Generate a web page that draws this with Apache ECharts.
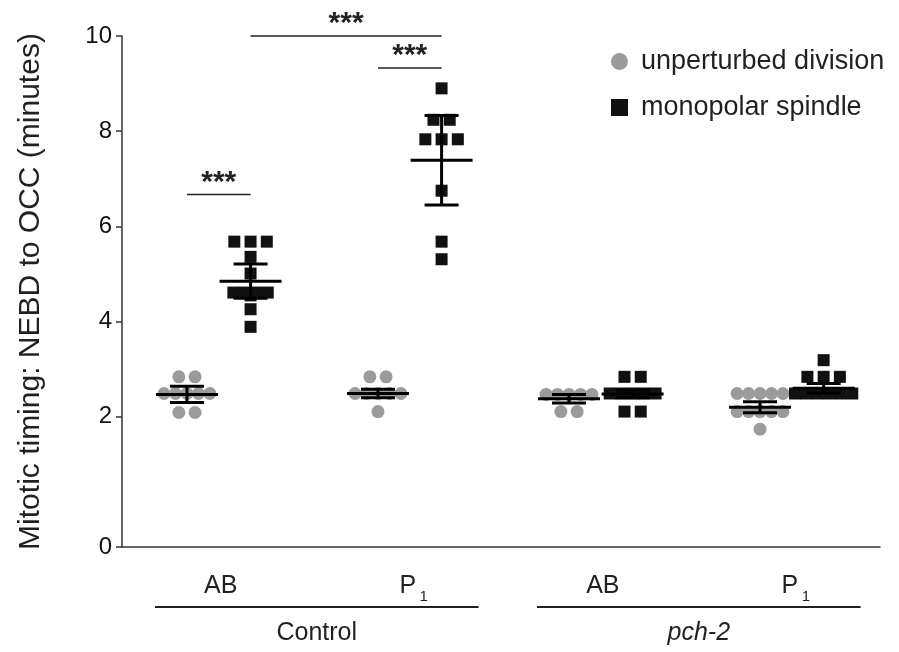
<!DOCTYPE html>
<html>
<head>
<meta charset="utf-8">
<style>
  html, body { margin: 0; padding: 0; background: #fff; }
  #chart { width: 899px; height: 652px; }
</style>
</head>
<body>
<div id="chart"></div>
<script src="https://cdn.jsdelivr.net/npm/echarts@6/dist/echarts.min.js"></script>
<script>
// cells and genotypes (two cells per genotype)
const cellNames = ['AB', 'P', 'AB', 'P']
const genotypes = ['Control', 'pch-2']
const seriesNames = ['unperturbed division', 'monopolar spindle']

// NEBD to OCC in minutes, one array per column
const ctrlABUnpert = [2.84, 2.84, 2.49, 2.49, 2.49, 2.49, 2.49, 2.09, 2.09]
const ctrlABMono = [5.68, 5.68, 5.68, 5.36, 5.01, 4.61, 4.61, 4.61, 4.61, 4.55, 4.26, 3.89]
const ctrlP1Unpert = [2.84, 2.84, 2.49, 2.49, 2.49, 2.49, 2.49, 2.11]
const ctrlP1Mono = [8.90, 8.24, 8.24, 7.83, 7.83, 7.83, 6.75, 5.68, 5.31]
const pchABUnpert = [2.47, 2.47, 2.47, 2.47, 2.47, 2.11, 2.11]
const pchABMono = [2.84, 2.84, 2.49, 2.49, 2.49, 2.49, 2.49, 2.11, 2.11]
const pchP1Unpert = [2.49, 2.49, 2.49, 2.49, 2.49, 2.11, 2.11, 2.11, 2.11, 2.11, 1.74]
const pchP1Mono = [3.19, 2.84, 2.84, 2.84, 2.49, 2.49, 2.49, 2.49, 2.49, 2.49]

// mean and error half-width per cell
const unpertMeans = [2.47, 2.49, 2.38, 2.20]
const unpertErrs = [0.17, 0.09, 0.09, 0.115]
const monoMeans = [4.85, 7.39, 2.48, 2.60]
const monoErrs = [0.36, 0.94, 0.08, 0.10]

const yTickLabels = [0, 2, 4, 6, 8, 10]

// significance brackets: column from, column to, height (columns 0..7)
const sigFrom = [0, 2, 1]
const sigTo = [1, 3, 3]
const sigHeight = [6.67, 9.33, 10.0]
const sigLabels = ['***', '***', '***']

const FONT = '"Liberation Sans", Arial, Helvetica, sans-serif'
const Y_BOTTOM = -0.735 // axis starts a bit below 0, like the original
const MONO_SHIFT = 0.333
const colX = (c) => Math.floor(c / 2) + (c % 2) * MONO_SHIFT

// put equal values side by side, centred on the column
function spreadRows(values, x0) {
  const rows = {}
  values.forEach(v => { (rows[v] = rows[v] || []).push(v) })
  const pts = []
  Object.keys(rows).forEach(k => {
    const n = rows[k].length
    const d = n <= 3 ? 0.085 : 0.06
    rows[k].forEach((v, i) => pts.push([x0 + (i - (n - 1) / 2) * d, v]))
  })
  return pts
}

const unpertCols = [ctrlABUnpert, ctrlP1Unpert, pchABUnpert, pchP1Unpert]
const monoCols = [ctrlABMono, ctrlP1Mono, pchABMono, pchP1Mono]

const unpertData = unpertCols.flatMap((vals, g) => spreadRows(vals, colX(g * 2)))
const monoData = monoCols.flatMap((vals, g) => spreadRows(vals, colX(g * 2 + 1)))

const errData = []
for (let g = 0; g < 4; g++) {
  errData.push([colX(g * 2), unpertMeans[g], unpertMeans[g] - unpertErrs[g], unpertMeans[g] + unpertErrs[g]])
  errData.push([colX(g * 2 + 1), monoMeans[g], monoMeans[g] - monoErrs[g], monoMeans[g] + monoErrs[g]])
}
const sigData = sigFrom.map((c, i) => [colX(c), colX(sigTo[i]), sigHeight[i]])

const chart = echarts.init(document.getElementById('chart'))

const option = {
  animation: false,
  backgroundColor: '#fff',
  textStyle: { fontFamily: FONT },
  grid: { left: 122, right: 19, top: 36, bottom: 105, containLabel: false, outerBoundsMode: 'none' },
  legend: {
    orient: 'vertical',
    left: 606,
    top: 43,
    itemWidth: 17,
    itemHeight: 17,
    itemGap: 19,
    textStyle: { fontSize: 27, color: '#231f20', fontFamily: FONT, padding: [0, 0, 0, 8] },
    data: [
      { name: seriesNames[0], icon: 'circle' },
      { name: seriesNames[1], icon: 'path://M0,0h10v10h-10z' }
    ]
  },
  xAxis: {
    type: 'value',
    min: -0.34,
    max: 3.628,
    axisLine: { show: true, onZero: false, lineStyle: { color: '#333', width: 1.5 } },
    axisTick: { show: false },
    axisLabel: { show: false },
    splitLine: { show: false }
  },
  yAxis: {
    type: 'value',
    min: Y_BOTTOM,
    max: 10,
    name: 'Mitotic timing: NEBD to OCC (minutes)',
    nameLocation: 'middle',
    nameGap: 76,
    nameTextStyle: { fontSize: 30, color: '#231f20', fontFamily: FONT },
    axisLine: { show: true, onZero: false, lineStyle: { color: '#333', width: 1.5 } },
    axisTick: {
      show: true, length: 6,
      lineStyle: { color: '#333', width: 1.5 },
      customValues: yTickLabels.map(v => v === 0 ? Y_BOTTOM : v)
    },
    axisLabel: {
      fontSize: 24, color: '#111', margin: 10, fontFamily: FONT,
      customValues: yTickLabels.map(v => v === 0 ? Y_BOTTOM : v),
      formatter: (v) => v < 0 ? '0' : String(Math.round(v))
    },
    splitLine: { show: false }
  },
  series: [
    {
      name: seriesNames[0],
      type: 'scatter',
      symbol: 'circle',
      symbolSize: 13,
      itemStyle: { color: '#9b9b9b', opacity: 1 },
      data: unpertData,
      z: 2
    },
    {
      name: seriesNames[1],
      type: 'scatter',
      symbol: 'rect',
      symbolSize: 12,
      itemStyle: { color: '#111', opacity: 1 },
      data: monoData,
      z: 2
    },
    {
      type: 'custom',
      name: 'errors',
      z: 5,
      data: errData,
      renderItem: (params, api) => {
        const x = api.value(0)
        const m = api.coord([x, api.value(1)])
        const lo = api.coord([x, api.value(2)])
        const hi = api.coord([x, api.value(3)])
        const style = { stroke: '#000', lineWidth: 3 }
        return {
          type: 'group',
          children: [
            { type: 'line', shape: { x1: m[0] - 31, y1: m[1], x2: m[0] + 31, y2: m[1] }, style },
            { type: 'line', shape: { x1: lo[0], y1: lo[1], x2: hi[0], y2: hi[1] }, style },
            { type: 'line', shape: { x1: lo[0] - 17, y1: lo[1], x2: lo[0] + 17, y2: lo[1] }, style },
            { type: 'line', shape: { x1: hi[0] - 17, y1: hi[1], x2: hi[0] + 17, y2: hi[1] }, style }
          ]
        }
      }
    },
    {
      type: 'custom',
      name: 'significance',
      z: 5,
      data: sigData,
      renderItem: (params, api) => {
        const a = api.coord([api.value(0), api.value(2)])
        const b = api.coord([api.value(1), api.value(2)])
        return {
          type: 'group',
          children: [
            { type: 'line', shape: { x1: a[0], y1: a[1], x2: b[0], y2: b[1] }, style: { stroke: '#222', lineWidth: 1.5 } },
            {
              type: 'text',
              style: {
                text: sigLabels[params.dataIndex],
                x: (a[0] + b[0]) / 2, y: a[1] - 12,
                align: 'center', verticalAlign: 'middle',
                font: 'bold 30px ' + FONT, fill: '#222'
              }
            }
          ]
        }
      }
    }
  ]
}

chart.setOption(option)

// category labels under the axis
const px = (x) => chart.convertToPixel({ gridIndex: 0 }, [x, 0])[0]
const labelStyle = { font: '25px ' + FONT, fill: '#231f20', align: 'center', verticalAlign: 'middle' }
const graphics = []
cellNames.forEach((name, g) => {
  const cx = (px(colX(g * 2)) + px(colX(g * 2 + 1))) / 2
  if (name === 'P') {
    graphics.push({ type: 'text', x: cx - 2, y: 586, style: Object.assign({}, labelStyle, { text: 'P' }) })
    graphics.push({ type: 'text', x: cx + 14, y: 597, style: Object.assign({}, labelStyle, { text: '1', font: '15px ' + FONT }) })
  } else {
    graphics.push({ type: 'text', x: cx + 2, y: 586, style: Object.assign({}, labelStyle, { text: name }) })
  }
})
genotypes.forEach((name, k) => {
  const x1 = px(colX(k * 4)) - 32
  const x2 = px(colX(k * 4 + 3)) + 37
  graphics.push({ type: 'line', shape: { x1, y1: 607, x2, y2: 607 }, style: { stroke: '#231f20', lineWidth: 2 } })
  graphics.push({
    type: 'text', x: (x1 + x2) / 2, y: 633,
    style: Object.assign({}, labelStyle, { text: name, font: (k === 1 ? 'italic ' : '') + '25px ' + FONT })
  })
})
chart.setOption({ graphic: graphics })
</script>
</body>
</html>
